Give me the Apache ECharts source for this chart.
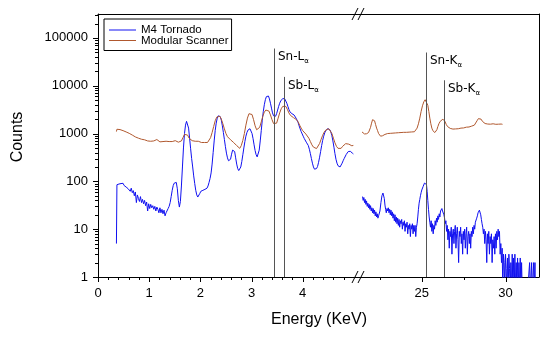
<!DOCTYPE html>
<html><head><meta charset="utf-8">
<script src="https://cdn.jsdelivr.net/npm/echarts@6/dist/echarts.min.js"></script>
<style>html,body{margin:0;padding:0;background:#fff}#c{width:550px;height:337px}</style>
</head><body><div id="c"></div>
<script>
// ---- data ----
const seriesNames = ['M4 Tornado', 'Modular Scanner'];
const tornadoLow = [[0.36,5],[0.37,85],[0.39,78],[0.41,88],[0.43,84],[0.45,90],[0.47,86],[0.49,91],[0.51,82],[0.53,84],[0.55,76],[0.57,80],[0.59,70],[0.61,74],[0.63,62],[0.65,72],[0.67,58],[0.69,64],[0.71,50],[0.73,60],[0.75,36],[0.77,52],[0.79,44],[0.81,38],[0.83,48],[0.85,36],[0.87,42],[0.89,34],[0.91,40],[0.93,31],[0.95,37],[0.97,24],[0.99,34],[1.01,27],[1.03,33],[1.05,28],[1.07,31],[1.09,26],[1.11,30],[1.13,24],[1.15,29],[1.17,26],[1.19,22],[1.21,28],[1.23,22],[1.25,26],[1.27,21],[1.29,25],[1.31,19],[1.33,22],[1.35,24],[1.37,27],[1.39,30],[1.41,36],[1.43,48],[1.45,65],[1.47,82],[1.49,92],[1.51,88],[1.53,95],[1.55,70],[1.57,40],[1.59,29],[1.61,38],[1.63,80],[1.65,200],[1.67,500],[1.69,1000],[1.71,1500],[1.73,1800],[1.75,1750],[1.77,1300],[1.79,800],[1.81,480],[1.83,300],[1.85,200],[1.87,130],[1.89,90],[1.91,65],[1.93,52],[1.95,47],[1.97,50],[1.99,56],[2.01,62],[2.03,58],[2.05,65],[2.07,60],[2.09,68],[2.11,62],[2.13,72],[2.15,80],[2.17,95],[2.19,115],[2.21,150],[2.23,230],[2.25,400],[2.27,700],[2.29,1150],[2.31,1650],[2.33,2100],[2.35,2350],[2.37,2400],[2.39,2250],[2.41,1900],[2.43,1450],[2.45,1050],[2.47,750],[2.49,530],[2.51,390],[2.53,310],[2.55,270],[2.57,258],[2.59,290],[2.61,370],[2.63,450],[2.65,480],[2.67,420],[2.69,310],[2.71,230],[2.73,185],[2.75,168],[2.77,170],[2.79,200],[2.81,260],[2.83,360],[2.85,500],[2.87,680],[2.89,880],[2.91,1050],[2.93,1180],[2.95,1250],[2.97,1260],[2.99,1180],[3.01,1000],[3.03,780],[3.05,580],[3.07,440],[3.09,360],[3.11,325],[3.13,340],[3.15,450],[3.17,700],[3.19,1150],[3.21,1900],[3.23,2900],[3.25,4000],[3.27,5100],[3.29,5900],[3.31,6300],[3.33,6100],[3.35,5300],[3.37,4300],[3.39,3400],[3.41,2700],[3.43,2350],[3.45,2230],[3.47,2300],[3.49,2600],[3.51,3100],[3.53,3700],[3.55,4300],[3.57,4800],[3.59,5200],[3.61,5400],[3.63,5400],[3.65,5300],[3.67,4900],[3.69,4300],[3.71,3700],[3.73,3200],[3.75,2850],[3.77,2650],[3.79,2600],[3.81,2550],[3.83,2450],[3.85,2300],[3.87,2100],[3.89,1900],[3.91,1700],[3.93,1450],[3.95,1250],[3.97,1100],[3.99,980],[4.01,880],[4.03,790],[4.05,720],[4.07,660],[4.09,620],[4.11,560],[4.13,470],[4.15,380],[4.17,300],[4.19,240],[4.21,200],[4.23,180],[4.25,176],[4.27,185],[4.29,205],[4.31,250],[4.33,320],[4.35,420],[4.37,560],[4.39,720],[4.41,880],[4.43,1030],[4.45,1150],[4.47,1230],[4.49,1265],[4.51,1260],[4.53,1200],[4.55,1080],[4.57,900],[4.59,700],[4.61,520],[4.63,380],[4.65,290],[4.67,240],[4.69,212],[4.71,202],[4.73,200],[4.75,215],[4.77,240],[4.79,270],[4.81,300],[4.83,330],[4.85,365],[4.87,395],[4.89,420],[4.91,430],[4.93,425],[4.95,410],[4.97,390],[4.99,375],[5.0,370]];
const scannerLow = [[0.36,1100],[0.37,1230],[0.40,1200],[0.43,1210],[0.46,1160],[0.49,1150],[0.52,1100],[0.55,1080],[0.58,1040],[0.61,1010],[0.64,960],[0.67,930],[0.70,900],[0.73,850],[0.76,820],[0.79,800],[0.82,770],[0.85,760],[0.88,730],[0.91,740],[0.94,710],[0.97,700],[1.00,720],[1.03,690],[1.06,680],[1.09,700],[1.12,720],[1.15,750],[1.18,690],[1.21,670],[1.24,690],[1.27,680],[1.30,660],[1.33,690],[1.36,670],[1.39,680],[1.42,700],[1.45,680],[1.48,690],[1.51,710],[1.54,690],[1.57,660],[1.60,650],[1.63,700],[1.66,820],[1.69,960],[1.72,1000],[1.75,930],[1.78,800],[1.81,740],[1.84,710],[1.87,700],[1.90,690],[1.93,680],[1.96,690],[1.99,670],[2.02,650],[2.05,640],[2.08,650],[2.11,630],[2.14,650],[2.17,700],[2.20,820],[2.23,1050],[2.26,1400],[2.29,1850],[2.32,2200],[2.35,2350],[2.38,2300],[2.41,2000],[2.44,1600],[2.47,1250],[2.50,1000],[2.53,860],[2.56,790],[2.59,740],[2.62,690],[2.65,650],[2.68,610],[2.71,560],[2.74,510],[2.77,490],[2.80,560],[2.83,720],[2.86,1000],[2.89,1500],[2.92,2100],[2.95,2600],[2.98,2750],[3.01,2500],[3.04,1950],[3.07,1450],[3.10,1200],[3.13,1180],[3.16,1350],[3.19,1750],[3.22,2300],[3.25,2800],[3.28,3100],[3.31,3200],[3.34,2950],[3.37,2450],[3.40,1950],[3.43,1620],[3.46,1500],[3.49,1650],[3.52,2100],[3.55,2700],[3.58,3300],[3.61,3700],[3.64,3900],[3.67,3700],[3.70,3200],[3.73,2700],[3.76,2400],[3.79,2250],[3.82,2150],[3.85,2050],[3.88,1950],[3.91,1750],[3.94,1500],[3.97,1300],[4.00,1150],[4.03,1050],[4.06,980],[4.09,900],[4.12,800],[4.15,680],[4.18,580],[4.21,520],[4.24,490],[4.27,485],[4.30,520],[4.33,620],[4.36,760],[4.39,920],[4.42,1070],[4.45,1180],[4.48,1250],[4.51,1260],[4.54,1180],[4.57,1000],[4.60,800],[4.63,640],[4.66,540],[4.69,490],[4.72,475],[4.75,490],[4.78,540],[4.81,590],[4.84,615],[4.87,620],[4.90,600],[4.93,570],[4.96,555],[4.99,565],[5.0,560]];
const tornadoHigh = [[21.46,48],[21.50,40],[21.54,46],[21.58,36],[21.62,42],[21.66,33],[21.70,39],[21.74,30],[21.78,35],[21.82,28],[21.86,33],[21.90,26],[21.94,31],[21.98,24],[22.02,28],[22.06,22],[22.10,27],[22.14,21],[22.18,25],[22.22,19],[22.26,23],[22.30,18],[22.34,21],[22.38,17],[22.42,19],[22.46,18],[22.50,24],[22.56,36],[22.62,50],[22.68,57],[22.72,55],[22.76,44],[22.80,32],[22.84,26],[22.88,22],[22.92,27],[22.96,24],[23.00,28],[23.04,22],[23.08,26],[23.12,20],[23.16,25],[23.20,19],[23.24,23],[23.28,17],[23.32,21],[23.36,15],[23.40,20],[23.44,14],[23.48,18],[23.52,13],[23.56,17],[23.60,12],[23.64,16],[23.68,11],[23.72,15],[23.76,13],[23.80,16],[23.84,10],[23.88,14],[23.92,12],[23.96,15],[24.00,9],[24.04,13],[24.08,11],[24.12,14],[24.16,8],[24.20,12],[24.24,10],[24.28,13],[24.32,7],[24.36,12],[24.40,10],[24.44,13],[24.48,8],[24.52,12],[24.56,9],[24.60,12],[24.64,7],[24.68,11],[24.72,13],[24.76,18],[24.80,26],[24.84,35],[24.88,42],[24.92,50],[24.96,58],[25.00,66],[25.04,72],[25.08,78],[25.12,85],[25.16,92],[25.20,97],[25.24,96],[25.28,86],[25.32,62],[25.36,40],[25.40,26],[25.44,18],[25.48,14],[25.52,11],[25.56,15],[25.60,9],[25.64,13],[25.68,8],[25.72,12],[25.76,10],[25.80,15],[25.84,12],[25.88,17],[25.92,14],[25.96,19],[26.00,16],[26.04,21],[26.08,18],[26.12,24],[26.16,22],[26.20,27],[26.24,24],[26.28,26],[26.32,20],[26.36,17],[26.40,13],[26.44,15],[26.48,9],[26.52,12],[26.56,6],[26.60,10],[26.64,4],[26.68,9],[26.72,7],[26.76,11],[26.80,3],[26.84,8],[26.88,10],[26.92,5],[26.96,9],[27.00,12],[27.04,4],[27.08,8],[27.12,11],[27.16,6],[27.20,2],[27.24,9],[27.28,7],[27.32,11],[27.36,5],[27.40,8],[27.44,3],[27.48,9],[27.52,6],[27.56,10],[27.60,4],[27.64,8],[27.68,11],[27.72,3],[27.76,7],[27.80,9],[27.84,5],[27.88,8],[27.92,4],[27.96,9],[28.00,7],[28.04,11],[28.08,8],[28.12,12],[28.16,10],[28.20,14],[28.24,13],[28.28,17],[28.32,19],[28.36,22],[28.40,24],[28.44,25],[28.48,23],[28.52,20],[28.56,16],[28.60,13],[28.64,11],[28.68,8],[28.72,10],[28.76,5],[28.80,9],[28.84,6],[28.88,2],[28.92,8],[28.96,5],[29.00,9],[29.04,3],[29.08,7],[29.12,5],[29.16,8],[29.20,2],[29.24,6],[29.28,4],[29.32,7],[29.36,3],[29.40,8],[29.44,4],[29.48,9],[29.52,6],[29.56,10],[29.60,7],[29.64,9],[29.68,3],[29.72,5],[29.76,2],[29.80,4],[29.84,0.5],[29.88,3],[29.92,2],[29.96,0.5],[30.00,3],[30.04,1.5],[30.08,0.5],[30.12,2.5],[30.16,0.5],[30.20,3],[30.24,1.5],[30.28,0.5],[30.32,2],[30.36,0.5],[30.40,3],[30.44,0.5],[30.48,2.5],[30.52,0.5],[30.56,3],[30.60,0.5],[30.64,2],[30.68,0.5],[30.72,2.5],[30.76,0.5],[30.80,2],[30.84,0.5],[30.88,2.5],[30.92,0.5],[30.96,2],[31.00,0.5],[31.04,0.5],[31.08,0.5],[31.12,0.5],[31.16,0.5],[31.20,0.5],[31.24,0.5],[31.28,0.5],[31.32,0.5],[31.36,0.5],[31.40,0.5],[31.44,2],[31.48,0.5],[31.52,0.5],[31.56,2],[31.60,0.5],[31.64,0.5],[31.68,2],[31.72,0.5],[31.76,2],[31.78,0.5]];
const scannerHigh = [[21.43,1080],[21.47,1020],[21.52,1000],[21.58,980],[21.64,1000],[21.70,990],[21.76,1010],[21.82,1050],[21.88,1150],[21.94,1350],[22.00,1650],[22.06,1950],[22.12,2050],[22.18,1850],[22.24,1550],[22.30,1300],[22.36,1150],[22.42,1000],[22.48,920],[22.54,880],[22.60,860],[22.66,900],[22.72,940],[22.80,960],[22.88,980],[22.96,1000],[23.04,990],[23.12,1010],[23.20,1000],[23.28,1020],[23.36,1010],[23.44,1030],[23.52,1020],[23.60,1040],[23.68,1030],[23.76,1050],[23.84,1040],[23.92,1060],[24.00,1050],[24.08,1060],[24.16,1050],[24.24,1070],[24.32,1060],[24.40,1080],[24.48,1070],[24.56,1090],[24.64,1150],[24.72,1300],[24.80,1600],[24.88,2100],[24.96,2900],[25.04,3800],[25.12,4600],[25.20,5100],[25.24,5200],[25.30,4800],[25.36,3900],[25.42,2900],[25.48,2100],[25.54,1600],[25.60,1300],[25.66,1150],[25.72,1080],[25.78,1050],[25.84,1080],[25.90,1200],[25.96,1400],[26.02,1600],[26.10,1800],[26.18,1950],[26.26,2000],[26.32,1950],[26.38,1800],[26.46,1550],[26.54,1400],[26.62,1320],[26.70,1280],[26.78,1250],[26.86,1240],[26.94,1230],[27.02,1250],[27.10,1270],[27.18,1260],[27.26,1290],[27.34,1300],[27.42,1320],[27.50,1310],[27.58,1340],[27.66,1360],[27.74,1380],[27.82,1370],[27.90,1400],[27.98,1430],[28.06,1450],[28.14,1500],[28.22,1620],[28.30,1850],[28.38,2050],[28.46,2130],[28.54,2000],[28.62,1800],[28.70,1680],[28.78,1620],[28.86,1600],[28.94,1580],[29.02,1600],[29.10,1570],[29.18,1590],[29.26,1600],[29.34,1580],[29.42,1560],[29.50,1590],[29.58,1570],[29.66,1550],[29.74,1580],[29.82,1560],[29.86,1550]];
const lowTickLabels = [0, 1, 2, 3, 4];
const highTickLabels = [25, 30];
const lowMinorTicks = [0.2,0.4,0.6,0.8,1.2,1.4,1.6,1.8,2.2,2.4,2.6,2.8,3.2,3.4,3.6,3.8,4.2,4.4,4.6,4.8];
const highMinorTicks = [22.5, 27.5];
const yTickLabels = [1, 10, 100, 1000, 10000, 100000];
const yMinorTicks = [2,3,4,5,6,7,8,9,20,30,40,50,60,70,80,90,200,300,400,500,600,700,800,900,2000,3000,4000,5000,6000,7000,8000,9000,20000,30000,40000,50000,60000,70000,80000,90000,200000,300000];
const lineNamesLow = ['Sn-L', 'Sb-L'];
const lineEnergiesLow = [3.43, 3.64];
const lineTopsLow = [60000, 15300];
const lineNamesHigh = ['Sn-K', 'Sb-K'];
const lineEnergiesHigh = [25.24, 26.3];
const lineTopsHigh = [49500, 13000];
const lineSub = 'α';

// ---- chart ----
const BLUE = '#1010f0', RED = '#b0582e', FONT = 'Liberation Sans';
const Y_MIN = 1, Y_MAX = 316228;
const chart = echarts.init(document.getElementById('c'), null, {renderer: 'canvas'});

function tickSeries(xi, yi, items) {
  return {
    type: 'custom', xAxisIndex: xi, yAxisIndex: yi, clip: false, silent: true, z: 5,
    data: items,
    renderItem: (params, api) => {
      const p = api.coord([api.value(0), api.value(1)]);
      const len = api.value(2), orient = api.value(3);
      if (orient === 0) {
        const x = Math.round(p[0]) + 0.5, y = Math.round(p[1]);
        return {type: 'line', shape: {x1: x, y1: y, x2: x, y2: y + len}, style: {stroke: '#000', lineWidth: 1}};
      }
      const x = Math.round(p[0]), y = Math.round(p[1]) + 0.5;
      return {type: 'line', shape: {x1: x, y1: y, x2: x - len, y2: y}, style: {stroke: '#000', lineWidth: 1}};
    }
  };
}
function markerSeries(xi, yi, energies, tops, names) {
  return {
    type: 'custom', xAxisIndex: xi, yAxisIndex: yi, clip: false, silent: true, z: 4,
    data: energies.map((e, i) => [e, tops[i]]),
    renderItem: (params, api) => {
      const e = api.value(0), top = api.value(1);
      const p0 = api.coord([e, Y_MIN]), p1 = api.coord([e, top]);
      const x = Math.round(p0[0]) + 0.5;
      return {type: 'group', children: [
        {type: 'line', shape: {x1: x, y1: p0[1], x2: x, y2: p1[1]}, style: {stroke: '#555', lineWidth: 1}},
        {type: 'text', x: x + 3.5, y: p1[1] + 0.5, style: {
          text: names[params.dataIndex] + '{s|' + lineSub + '}', fill: '#000',
          fontSize: 12, fontFamily: 'DejaVu Sans', lineHeight: 16,
          align: 'left', verticalAlign: 'top', textAlign: 'left', textVerticalAlign: 'top',
          rich: {s: {fontSize: 7, lineHeight: 7, verticalAlign: 'bottom', fontFamily: 'DejaVu Sans', fill: '#000'}}
        }}
      ]};
    }
  };
}
function lineSeries(name, data, color, xi, yi, z) {
  return {type: 'line', name, data, xAxisIndex: xi, yAxisIndex: yi, symbol: 'none', showSymbol: false,
    lineStyle: {color, width: 1}, itemStyle: {color}, z, animation: false, silent: true};
}
const frameAxis = {axisLine: {show: true, lineStyle: {color: '#000', width: 1}}, axisTick: {show: false}, axisLabel: {show: false}, splitLine: {show: false}};
const labelStyle = {color: '#000', fontSize: 13, fontFamily: FONT};

const xTicksLow = lowTickLabels.map(v => [v, Y_MIN, 5, 0]).concat(lowMinorTicks.map(v => [v, Y_MIN, 3, 0]))
  .concat(yTickLabels.map(v => [0, v, 5, 1])).concat(yMinorTicks.map(v => [0, v, 3, 1]));
const xTicksHigh = highTickLabels.map(v => [v, Y_MIN, 5, 0]).concat(highMinorTicks.map(v => [v, Y_MIN, 3, 0]));

chart.setOption({
  animation: false,
  textStyle: {fontFamily: FONT},
  grid: [
    {left: 98, top: 14, width: 261, height: 263, containLabel: false},
    {left: 359, top: 14, width: 180, height: 263, containLabel: false}
  ],
  legend: {
    data: seriesNames, left: 104, top: 19, orient: 'vertical', icon: 'rect', itemWidth: 27, itemHeight: 1, itemGap: -1.5,
    padding: [5, 3, 4, 5], borderColor: '#000', borderWidth: 1, backgroundColor: '#fff', borderRadius: 0,
    selectedMode: false, textStyle: {fontSize: 11.5, fontFamily: FONT, color: '#000', lineHeight: 10}
  },
  xAxis: [
    Object.assign({type: 'value', gridIndex: 0, position: 'bottom', min: 0, max: 5.1,
      axisLabel: {show: true, customValues: lowTickLabels, margin: 10, ...labelStyle}}, {axisLine: frameAxis.axisLine, axisTick: {show: false}, splitLine: {show: false}}),
    Object.assign({type: 'value', gridIndex: 0, position: 'top', min: 0, max: 5.1}, frameAxis),
    Object.assign({type: 'value', gridIndex: 1, position: 'bottom', min: 21.25, max: 32,
      axisLabel: {show: true, customValues: highTickLabels, margin: 10, ...labelStyle}}, {axisLine: frameAxis.axisLine, axisTick: {show: false}, splitLine: {show: false}}),
    Object.assign({type: 'value', gridIndex: 1, position: 'top', min: 21.25, max: 32}, frameAxis)
  ],
  yAxis: [
    {type: 'log', logBase: 10, gridIndex: 0, position: 'left', min: Y_MIN, max: Y_MAX,
      axisLine: frameAxis.axisLine, axisTick: {show: false}, splitLine: {show: false}, minorTick: {show: false},
      axisLabel: {show: true, margin: 10, ...labelStyle, formatter: v => {
        const l = Math.log10(v); return Math.abs(l - Math.round(l)) < 1e-6 ? String(Math.round(v)) : '';
      }}},
    Object.assign({type: 'log', logBase: 10, gridIndex: 1, position: 'right', min: Y_MIN, max: Y_MAX}, frameAxis)
  ],
  series: [
    lineSeries(seriesNames[0], tornadoLow, BLUE, 0, 0, 2),
    lineSeries(seriesNames[1], scannerLow, RED, 0, 0, 3),
    lineSeries(seriesNames[0], tornadoHigh, BLUE, 2, 1, 2),
    lineSeries(seriesNames[1], scannerHigh, RED, 2, 1, 3),
    markerSeries(0, 0, lineEnergiesLow, lineTopsLow, lineNamesLow),
    markerSeries(2, 1, lineEnergiesHigh, lineTopsHigh, lineNamesHigh),
    tickSeries(0, 0, xTicksLow),
    tickSeries(2, 1, xTicksHigh)
  ]
});

// axis titles and break marks
const pb = chart.convertToPixel({xAxisIndex: 0, yAxisIndex: 0}, [5.1, Y_MIN]);
const pt = chart.convertToPixel({xAxisIndex: 0, yAxisIndex: 0}, [5.1, Y_MAX]);
const slash = (bx, by, dx) => ({type: 'line', shape: {x1: bx + dx, y1: by + 6, x2: bx + dx + 6, y2: by - 6}, style: {stroke: '#000', lineWidth: 1}, z: 10});
chart.setOption({
  graphic: [
    {type: 'text', x: 319, y: 320, style: {text: 'Energy (KeV)', fill: '#000', fontSize: 16, fontFamily: FONT,
      align: 'center', verticalAlign: 'middle', textAlign: 'center', textVerticalAlign: 'middle'}},
    {type: 'text', x: 18, y: 137, rotation: Math.PI / 2, style: {text: 'Counts', fill: '#000', fontSize: 16, fontFamily: FONT,
      align: 'center', verticalAlign: 'middle', textAlign: 'center', textVerticalAlign: 'middle'}},
    slash(pb[0], pb[1], -7), slash(pb[0], pb[1], -1),
    slash(pt[0], pt[1], -7), slash(pt[0], pt[1], -1)
  ]
});
</script></body></html>
